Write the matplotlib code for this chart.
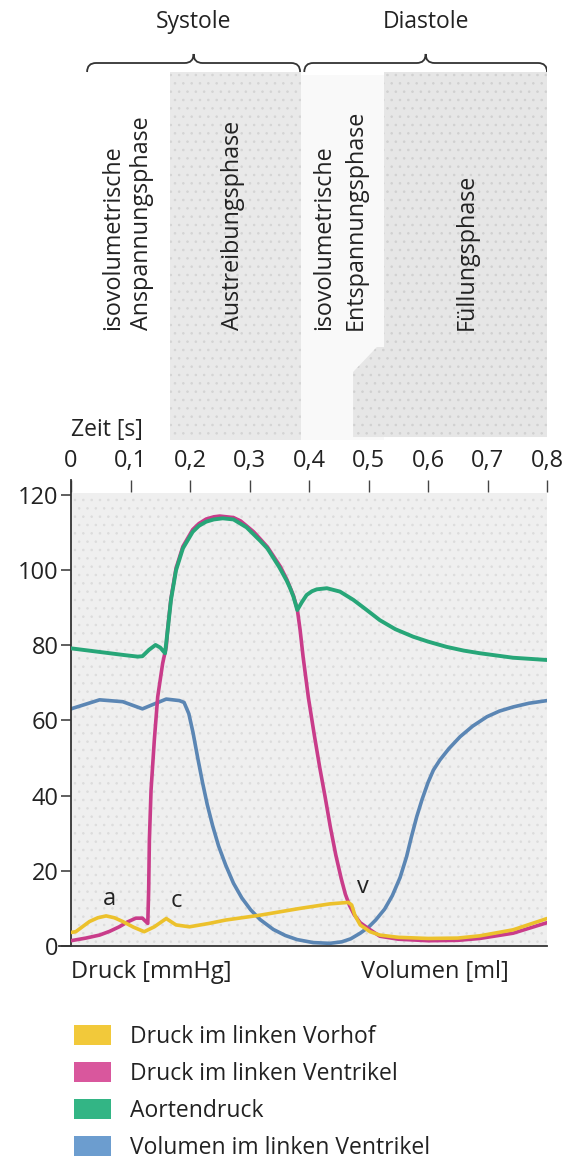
import matplotlib
matplotlib.use("Agg")
import matplotlib.pyplot as plt
from matplotlib.patches import Patch
from matplotlib.path import Path
from matplotlib.patches import PathPatch

plt.rcParams['font.family'] = ['Open Sans', 'DejaVu Sans']
plt.rcParams['hatch.linewidth'] = 0.6

# Druck im linken Vorhof [mmHg]
t_vorhof = [0.0, 0.008, 0.031, 0.045, 0.059, 0.073, 0.087, 0.105, 0.123, 0.14,
            0.16, 0.1765, 0.199, 0.232, 0.26, 0.318, 0.385, 0.435, 0.466, 0.4717,
            0.477, 0.486, 0.5025, 0.519, 0.55, 0.6, 0.65, 0.687, 0.743, 0.8]
p_vorhof = [3.6, 3.8, 6.5, 7.5, 8.0, 7.5, 6.5, 5.0, 3.8, 5.1,
            7.3, 5.6, 5.1, 6.0, 6.9, 8.2, 10.0, 11.2, 11.6, 10.9,
            8.2, 5.6, 3.8, 2.9, 2.3, 2.0, 2.1, 2.7, 4.3, 7.3]

# Druck im linken Ventrikel [mmHg]
t_ventrikel = [0.0, 0.025, 0.048, 0.065, 0.081, 0.095, 0.109, 0.12, 0.129, 0.1305,
               0.1317, 0.1345, 0.14, 0.1457, 0.154, 0.16, 0.1625, 0.168, 0.1765, 0.188,
               0.2045, 0.215, 0.227, 0.24, 0.25, 0.273, 0.285, 0.295, 0.307, 0.318,
               0.33, 0.34, 0.352, 0.3625, 0.3737, 0.3803, 0.385, 0.39, 0.399, 0.409,
               0.418, 0.427, 0.436, 0.445, 0.454, 0.461, 0.468, 0.476, 0.486, 0.5,
               0.519, 0.55, 0.6, 0.65, 0.687, 0.743, 0.8]
p_ventrikel = [1.4, 2.1, 2.9, 3.9, 5.1, 6.4, 7.4, 7.4, 6.0, 14.9,
               28.2, 41.5, 54.8, 66.3, 75.2, 79.6, 84.5, 92.5, 100.5, 106.3,
               110.8, 112.4, 113.6, 114.2, 114.4, 114.0, 113.1, 111.8, 110.2, 108.3,
               106.2, 103.8, 100.9, 97.6, 93.3, 89.6, 84.1, 77.0, 66.0, 56.0,
               47.5, 39.7, 31.5, 24.2, 18.0, 13.8, 10.8, 8.3, 6.2, 4.6,
               2.6, 1.8, 1.4, 1.5, 2.0, 3.4, 6.2]

# Aortendruck [mmHg]
t_aorta = [0.0, 0.05, 0.09, 0.112, 0.12, 0.131, 0.142, 0.15, 0.158, 0.1625,
           0.168, 0.1765, 0.188, 0.2045, 0.215, 0.227, 0.24, 0.255, 0.273, 0.295,
           0.318, 0.33, 0.34, 0.35, 0.3625, 0.368, 0.3737, 0.3803, 0.388, 0.396,
           0.405, 0.413, 0.43, 0.452, 0.4745, 0.497, 0.519, 0.545, 0.575, 0.6,
           0.631, 0.66, 0.687, 0.743, 0.8]
p_aorta = [79.2, 78.2, 77.4, 77.0, 77.1, 78.8, 80.1, 79.4, 77.9, 84.1,
           92.1, 100.0, 105.8, 110.2, 111.8, 112.9, 113.5, 113.8, 113.5, 111.4,
           107.8, 105.8, 103.3, 100.8, 97.2, 95.3, 93.0, 89.4, 91.5, 93.4,
           94.4, 94.9, 95.2, 94.3, 92.1, 89.4, 86.7, 84.3, 82.3, 81.0,
           79.6, 78.6, 77.9, 76.7, 76.1]

# Volumen im linken Ventrikel [ml]
t_volumen = [0.0, 0.048, 0.087, 0.12, 0.143, 0.16, 0.182, 0.19, 0.198, 0.205,
             0.213, 0.221, 0.229, 0.238, 0.248, 0.26, 0.273, 0.287, 0.302, 0.318,
             0.34, 0.36, 0.38, 0.407, 0.435, 0.455, 0.47, 0.486, 0.5, 0.512,
             0.527, 0.54, 0.553, 0.564, 0.572, 0.581, 0.59, 0.6, 0.609, 0.62,
             0.635, 0.654, 0.675, 0.699, 0.72, 0.743, 0.77, 0.8]
v_volumen = [63.1, 65.5, 65.0, 63.1, 64.6, 65.7, 65.3, 64.8, 61.8, 56.8,
             50.0, 43.5, 37.6, 32.0, 26.6, 21.5, 16.7, 12.8, 9.6, 7.0,
             4.4, 2.8, 1.7, 0.9, 0.7, 1.1, 1.9, 3.4, 5.0, 6.9,
             9.8, 13.4, 18.2, 23.8, 29.0, 34.4, 39.0, 43.5, 46.8, 49.5,
             52.5, 55.7, 58.5, 61.0, 62.5, 63.6, 64.6, 65.3]

zeit_ticks = [0.0, 0.1, 0.2, 0.3, 0.4, 0.5, 0.6, 0.7, 0.8]
zeit_labels = ['0', '0,1', '0,2', '0,3', '0,4', '0,5', '0,6', '0,7', '0,8']
druck_ticks = [0, 20, 40, 60, 80, 100, 120]

# phases: start / end [s]
systole = (0.027, 0.385)
diastole = (0.392, 0.8)
austreibung = (0.167, 0.386)
fuellung = (0.526, 0.805)

c_gelb = '#ecc12c'
c_pink = '#c93c8a'
c_gruen = '#27a678'
c_blau = '#5b86b4'
txt_col = '#222222'

fig = plt.figure(figsize=(5.65, 11.58), dpi=100)

# ---- main chart ----
ax = fig.add_axes([0.1257, 0.1831, 0.8425, 0.4024])
ax.set_xlim(0, 0.8)
ax.set_ylim(0, 124)
ax.axhspan(0, 120.5, facecolor='#efefef', edgecolor='#dcdcdc', hatch='..', lw=0, zorder=0)

style = dict(solid_capstyle='round', solid_joinstyle='round')
ax.plot(t_volumen, v_volumen, color=c_blau, lw=2.6, zorder=2, **style)
ax.plot(t_ventrikel, p_ventrikel, color=c_pink, lw=2.6, zorder=3, **style)
ax.plot(t_aorta, p_aorta, color=c_gruen, lw=2.8, zorder=4, **style)
ax.plot(t_vorhof, p_vorhof, color=c_gelb, lw=2.6, zorder=5, **style)

ax.text(0.064, 9.2, 'a', fontsize=17, ha='center', va='bottom', color=txt_col)
ax.text(0.177, 8.7, 'c', fontsize=17, ha='center', va='bottom', color=txt_col)
ax.text(0.49, 12.4, 'v', fontsize=17, ha='center', va='bottom', color=txt_col)

for s in ['right', 'top']:
    ax.spines[s].set_visible(False)
for s in ['left', 'bottom']:
    ax.spines[s].set_color('#333333')
    ax.spines[s].set_linewidth(1.3)
ax.spines['bottom'].set_bounds(-0.02, 0.8)
ax.set_yticks(druck_ticks)
ax.tick_params(axis='y', direction='out', length=7, width=1.1, color='#333333',
               labelsize=17, pad=2, labelcolor=txt_col)
ax.xaxis.tick_top()
ax.set_xticks(zeit_ticks)
ax.set_xticklabels(zeit_labels)
ax.tick_params(axis='x', direction='in', length=8.5, width=1.0, color='#444444',
               labelsize=17, pad=5, labelcolor=txt_col)
ax.text(0.0, -0.055, 'Druck [mmHg]', transform=ax.transAxes, fontsize=17,
        ha='left', va='center', color=txt_col)
ax.text(0.61, -0.055, 'Volumen [ml]', transform=ax.transAxes, fontsize=17,
        ha='left', va='center', color=txt_col)

# ---- phase header ----
top = fig.add_axes([0.1257, 0.6200, 0.8425, 0.3800])
top.set_xlim(0, 0.8)
top.set_ylim(440, 0)
top.axis('off')
top.fill_between([austreibung[1], fuellung[0]], 75, 440, color='#f9f9f9', lw=0)
top.fill_between(list(austreibung), 72, 440, facecolor='#e9e9e9', hatch='..',
                 edgecolor='#d4d4d4', lw=0)
top.fill([fuellung[0], fuellung[1], fuellung[1], 0.474, 0.474, 0.474 + 0.04, fuellung[0]],
         [72, 72, 437, 437, 372, 347, 347], facecolor='#e6e6e6', hatch='..',
         edgecolor='#d0d0d0', lw=0)


def brace(axh, x0, x1, y, h, w):
    xm = (x0 + x1) / 2
    verts = [(x0, y + h), (x0, y), (x0 + w, y),
             (xm - w, y), (xm, y), (xm, y - h),
             (xm, y), (xm + w, y),
             (x1 - w, y), (x1, y), (x1, y + h)]
    codes = [Path.MOVETO, Path.CURVE3, Path.CURVE3,
             Path.LINETO, Path.CURVE3, Path.CURVE3,
             Path.CURVE3, Path.CURVE3,
             Path.LINETO, Path.CURVE3, Path.CURVE3]
    axh.add_patch(PathPatch(Path(verts, codes), fill=False, lw=1.3, ec='#333333'))


brace(top, systole[0], systole[1], 63, 9, 0.015)
brace(top, diastole[0], diastole[1], 63, 9, 0.015)
top.text(sum(systole) / 2, 22, 'Systole', fontsize=16.5, ha='center', va='center', color=txt_col)
top.text(sum(diastole) / 2, 22, 'Diastole', fontsize=16.5, ha='center', va='center', color=txt_col)

phasen = [(0.07, 'isovolumetrische'), (0.12, 'Anspannungsphase'),
          (0.272, 'Austreibungsphase'), (0.425, 'isovolumetrische'),
          (0.478, 'Entspannungsphase'), (0.665, 'Füllungsphase')]
for xp, txt in phasen:
    top.text(xp, 330, txt, rotation=90, fontsize=16.8, ha='center', va='bottom', color=txt_col)

fig.text(0.1257, 0.629, 'Zeit [s]', fontsize=16.5, ha='left', va='center', color=txt_col)

# ---- legend ----
handles = [Patch(facecolor='#f2c93a', edgecolor='none'),
           Patch(facecolor='#d9579d', edgecolor='none'),
           Patch(facecolor='#33b585', edgecolor='none'),
           Patch(facecolor='#6c9dcf', edgecolor='none')]
labels = ['Druck im linken Vorhof', 'Druck im linken Ventrikel', 'Aortendruck',
          'Volumen im linken Ventrikel']
fig.legend(handles, labels, loc='upper left', bbox_to_anchor=(0.115, 0.1228),
           frameon=False, fontsize=16.5, handlelength=1.6, handleheight=0.95,
           handletextpad=0.85, labelspacing=0.57, borderaxespad=0, labelcolor=txt_col)

fig.savefig('out.png', dpi=100, facecolor='white')
